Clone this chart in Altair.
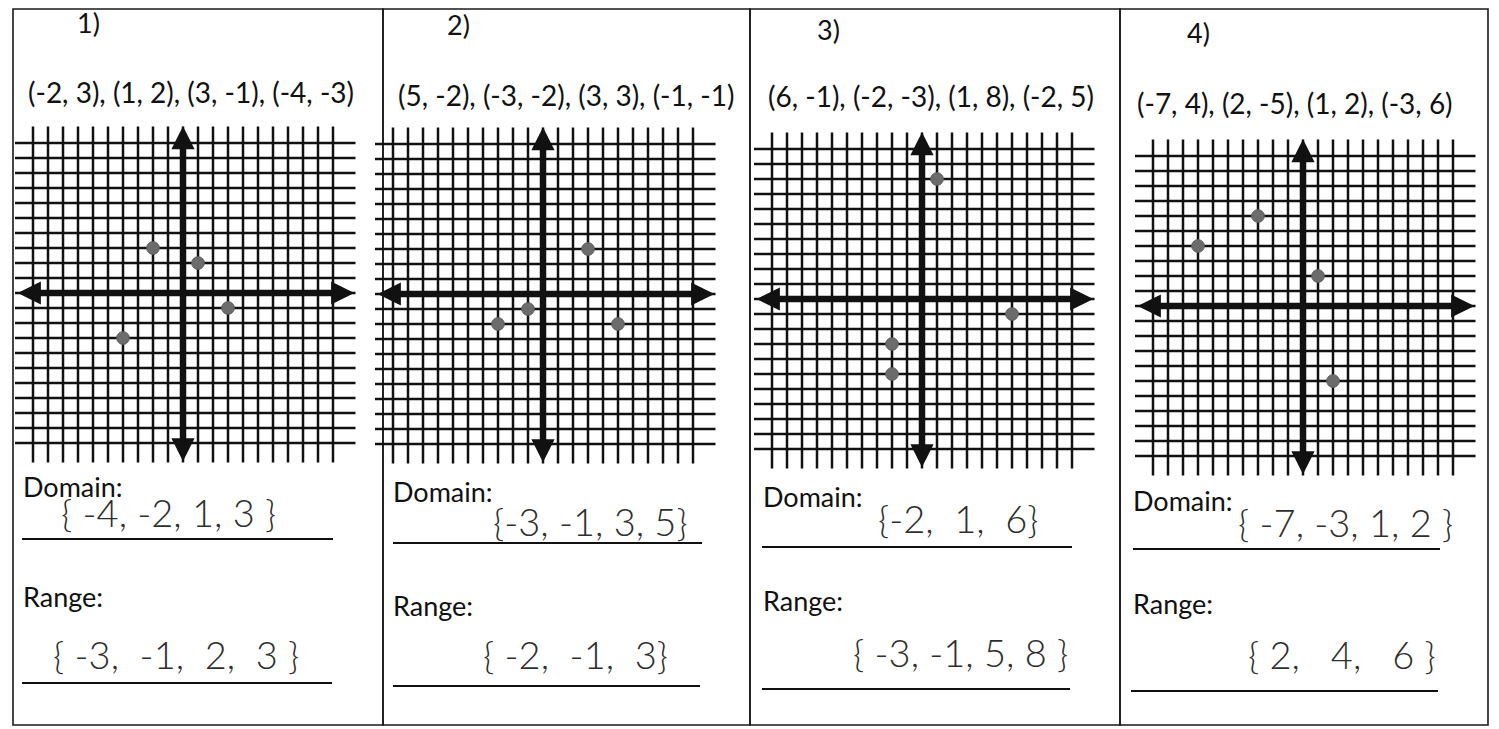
import altair as alt
import pandas as pd

# ---- worksheet content -------------------------------------------------
problem_numbers = ["1)", "2)", "3)", "4)"]

# ordered pairs printed above each grid
printed_pairs = [
    "(-2, 3), (1, 2), (3, -1), (-4, -3)",
    "(5, -2), (-3, -2), (3, 3), (-1, -1)",
    "(6, -1), (-2, -3), (1, 8), (-2, 5)",
    "(-7, 4), (2, -5), (1, 2), (-3, 6)",
]

# dots marked on each grid
dots_x = [[-2, 1, 3, -4], [5, -3, 3, -1], [6, -2, 1, -2], [-7, 2, 1, -3]]
dots_y = [[3, 2, -1, -3], [-2, -2, 3, -1], [-1, -3, 8, -5], [4, -5, 2, 6]]

# answers written on the lines (non-breaking spaces keep the loose hand spacing)
S = "\u00a0"
domain_answers = [
    "{ -4, -2, 1, 3 }",
    "{-3, -1, 3, 5}",
    "{-2," + S + " 1," + S + " 6}",
    "{ -7, -3, 1, 2 }",
]
range_answers = [
    "{ -3," + S + " -1," + S + " 2," + S + " 3 }",
    "{ -2," + S + " -1," + S + " 3}",
    "{ -3, -1, 5, 8 }",
    "{ 2," + S + S + " 4," + S + S + " 6 }",
]

grid_ticks = list(range(-10, 11))

# ---- layout (pixels within each panel) ---------------------------------
UNIT = 15          # pixels per grid square
PANEL_H = 716
layout = [
    dict(w=370, ox=170, oy=284, num=(64, 16), pairs=(15, 86),
         dom=(10, 480), dom_ans=(48, 507), dom_line=(9, 320, 530),
         rng=(10, 590), rng_ans=(40, 649), rng_line=(9, 319, 674)),
    dict(w=367, ox=160, oy=285, num=(64, 18), pairs=(15, 89),
         dom=(10, 485), dom_ans=(110, 516), dom_line=(10, 319, 534),
         rng=(10, 599), rng_ans=(100, 649), rng_line=(10, 317, 677)),
    dict(w=370, ox=172, oy=290, num=(67, 23), pairs=(18, 90),
         dom=(13, 490), dom_ans=(128, 513), dom_line=(12, 322, 538),
         rng=(13, 594), rng_ans=(103, 647), rng_line=(12, 320, 680)),
    dict(w=368, ox=183, oy=297, num=(67, 26), pairs=(17, 97),
         dom=(13, 494), dom_ans=(118, 517), dom_line=(13, 320, 540),
         rng=(13, 597), rng_ans=(128, 649), rng_line=(11, 318, 682)),
]

PRINT_FONT = "Lato"
INK = "#111111"
PEN = "#2e2e2e"
DOT = "#6c6c6c"

H_EXTENT = (-11.2, 11.5)   # horizontal rules run this far in x
V_EXTENT = (-11.3, 11.1)   # vertical rules run this far in y


def text_layer(txt, pos, size, weight="normal", color=INK, font=PRINT_FONT):
    return alt.Chart(pd.DataFrame({"t": [txt]})).mark_text(
        align="left", baseline="middle", font=font, fontSize=size,
        fontWeight=weight, color=color,
    ).encode(text="t:N", x=alt.value(pos[0]), y=alt.value(pos[1]))


def underline(x1, x2, y):
    return alt.Chart(pd.DataFrame({"k": [0]})).mark_rule(
        color=INK, strokeWidth=2
    ).encode(x=alt.value(x1), x2=alt.value(x2), y=alt.value(y))


def panel(i):
    L = layout[i]
    w, ox, oy = L["w"], L["ox"], L["oy"]
    xs = alt.Scale(domain=[-ox / UNIT, (w - ox) / UNIT], nice=False, zero=False)
    ys = alt.Scale(domain=[-(PANEL_H - oy) / UNIT, oy / UNIT], nice=False, zero=False)

    def X(f):
        return alt.X(f, type="quantitative", scale=xs, axis=None)

    def Y(f):
        return alt.Y(f, type="quantitative", scale=ys, axis=None)

    verticals = pd.DataFrame({"x": grid_ticks, "y0": V_EXTENT[0], "y1": V_EXTENT[1]})
    horizontals = pd.DataFrame({"y": grid_ticks, "x0": H_EXTENT[0], "x1": H_EXTENT[1]})

    v_rules = alt.Chart(verticals).mark_rule(color=INK, strokeWidth=2.5).encode(
        x=X("x"), y=Y("y0"), y2="y1")
    h_rules = alt.Chart(horizontals).mark_rule(color=INK, strokeWidth=2.5).encode(
        y=Y("y"), x=X("x0"), x2="x1")

    # coordinate axes with arrowheads
    x_axis = alt.Chart(pd.DataFrame({"x0": [-10.4], "x1": [10.8], "y": [0]})).mark_rule(
        color=INK, strokeWidth=6.5).encode(x=X("x0"), x2="x1", y=Y("y"))
    y_axis = alt.Chart(pd.DataFrame({"y0": [-10.6], "y1": [10.5], "x": [0]})).mark_rule(
        color=INK, strokeWidth=6.5).encode(y=Y("y0"), y2="y1", x=X("x"))

    heads = pd.DataFrame({
        "x": [-10.25, 10.65, 0, 0],
        "y": [0, 0, 10.35, -10.45],
        "shape": ["M-1,0L1,-1L1,1Z", "M1,0L-1,-1L-1,1Z",
                  "M0,-1L-1,1L1,1Z", "M0,1L-1,-1L1,-1Z"],
    })
    arrowheads = alt.Chart(heads).mark_point(
        filled=True, color=INK, opacity=1, size=540, strokeWidth=0
    ).encode(x=X("x"), y=Y("y"), shape=alt.Shape("shape:N", scale=None, legend=None))

    dots = alt.Chart(pd.DataFrame({"x": dots_x[i], "y": dots_y[i]})).mark_circle(
        color=DOT, opacity=1, size=160, stroke="#5a5a5a", strokeWidth=1
    ).encode(x=X("x"), y=Y("y"))

    layers = [
        h_rules, v_rules, x_axis, y_axis, arrowheads, dots,
        text_layer(problem_numbers[i], L["num"], 27),
        text_layer(printed_pairs[i], L["pairs"], 28),
        text_layer("Domain:", L["dom"], 27),
        text_layer("Range:", L["rng"], 27),
        text_layer(domain_answers[i], L["dom_ans"], 38, weight=300, color=PEN),
        text_layer(range_answers[i], L["rng_ans"], 38, weight=300, color=PEN),
        underline(*L["dom_line"]),
        underline(*L["rng_line"]),
    ]
    return alt.layer(*layers).properties(width=w, height=PANEL_H)


chart = alt.hconcat(*[panel(i) for i in range(4)], spacing=0, bounds="flush").properties(
    padding={"left": 12, "top": 8, "right": 0, "bottom": 0},
    background="white",
).configure_view(stroke="#1a1a1a", strokeWidth=1.6)

chart.save("out.html", embed_options={"renderer": "svg", "actions": False})
